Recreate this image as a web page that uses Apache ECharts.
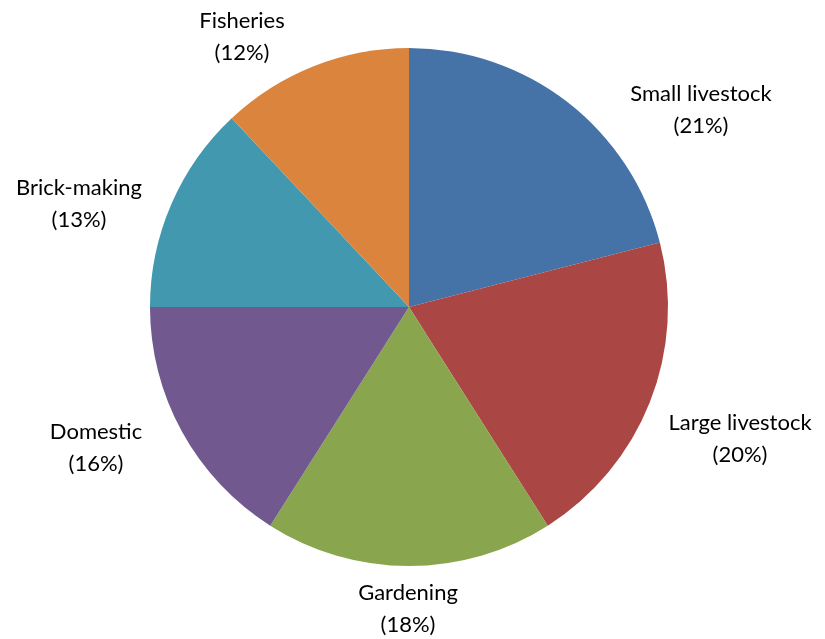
<!DOCTYPE html>
<html>
<head>
<meta charset="utf-8">
<script src="https://cdn.jsdelivr.net/npm/echarts@6/dist/echarts.min.js"></script>
<style>
  html, body { margin: 0; padding: 0; background: #fff; }
  #chart { width: 825px; height: 639px; }
</style>
</head>
<body>
<div id="chart"></div>
<script>
const categories = ['Small livestock', 'Large livestock', 'Gardening', 'Domestic', 'Brick-making', 'Fisheries']
const shares = [21, 20, 18, 16, 13, 12]
const colors = ['#4572A7', '#AA4643', '#89A54E', '#71588F', '#4198AF', '#DB843D']

// label centre offsets from the pie centre (Excel "best fit" placement)
const labelOffsets = [[292, -197], [331, 132], [-1, 302], [-313, 141], [-330, -103], [-167, -270]]

const cx = 409
const cy = 307

const chart = echarts.init(document.getElementById('chart'))

chart.setOption({
  animation: false,
  color: colors,
  series: [{
    type: 'pie',
    center: [cx, cy],
    radius: 259,
    startAngle: 90,
    clockwise: true,
    data: categories.map((name, i) => ({ name, value: shares[i] })),
    itemStyle: { borderWidth: 0 },
    label: {
      show: true,
      position: 'outside',
      formatter: '{b}\n({c}%)',
      fontFamily: 'Lato',
      fontSize: 22,
      lineHeight: 32,
      color: '#000',
      align: 'center',
      overflow: 'none',
      width: 300
    },
    labelLine: { show: false },
    labelLayout: (params) => {
      const off = labelOffsets[params.dataIndex]
      return {
        x: cx + off[0],
        y: cy + off[1],
        align: 'center',
        verticalAlign: 'middle'
      }
    },
    emphasis: { disabled: true }
  }]
})
</script>
</body>
</html>
